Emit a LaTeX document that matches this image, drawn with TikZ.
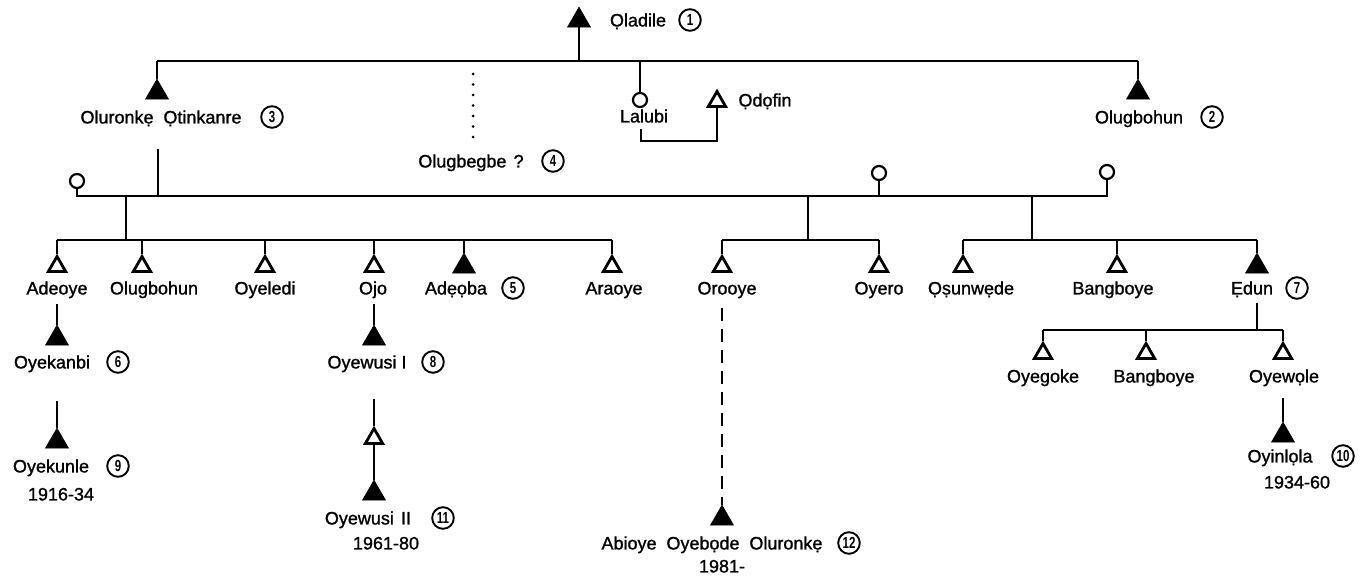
\documentclass[tikz,border=0pt]{standalone}
\usepackage{fontspec}
\setmainfont{Liberation Sans}[FakeBold=1.2]
\newfontfamily\numfont{Liberation Sans}[FakeStretch=0.72]
\usetikzlibrary{shapes.geometric,calc}
\begin{document}
\begin{tikzpicture}[x=0.5pt,y=-0.5pt,line width=1pt,
  male/.style={regular polygon,regular polygon sides=3,minimum size=10pt,inner sep=0pt,
    draw,line width=1.4pt,fill=white},
  ruler/.style={regular polygon,regular polygon sides=3,minimum size=13.3pt,inner sep=0pt,
    draw,line width=0.3pt,fill=black},
  female/.style={circle,draw,line width=1.1pt,minimum size=7pt,inner sep=0pt},
  lbl/.style={font=\fontsize{9}{11}\selectfont,inner sep=0pt,text height=6.45pt,text depth=0pt},
  num/.style={circle,draw,line width=0.95pt,minimum size=10.8pt,inner sep=0pt,
    font=\numfont\bfseries\fontsize{8}{8}\selectfont},
  dotline/.style={line width=1.5pt,line cap=round,dash pattern=on 0pt off 5.25pt},
  dashline/.style={line width=1pt,dash pattern=on 6.5pt off 4pt},
]
\useasboundingbox (0,0) rectangle (1369,577);

% ---- founder
\node[ruler] (tOladile) at (579,20.5) {};
\node[lbl] (lOladile) at (638,20) {Ọladile};
\node[num] (nOladile) at (690,20) {1};

\coordinate (topL) at (157,61);
\coordinate (topR) at (1138,61);
\draw (topL) -- (topR);
\draw (tOladile.side 2) -- (tOladile.side 2 |- topL);

% ---- first generation
\node[ruler] (tOluronke) at (157,92.5) {};
\draw (topL) -- (tOluronke.corner 1);
\node[lbl] (lOluronke) at (161,117) {Oluronkẹ\hspace{.55em}Ọtinkanre};
\node[num] (nOluronke) at (272,117) {3};

\coordinate (dotTop) at (473,74);
\coordinate (dotBot) at (473,137);
\draw[dotline] (dotTop) -- (dotBot);
\node[lbl] (lOlugbegbe) at (471,161) {Olugbegbe\hspace{.4em}?};
\node[num] (nOlugbegbe) at (553,161) {4};

\node[female] (cLalubi) at (640,100) {};
\draw (cLalubi.north |- topL) -- (cLalubi.north);
\node[lbl] (lLalubi) at (644,116) {Lalubi};
\node[male] (tOdofin) at (717,101.5) {};
\node[lbl] (lOdofin) at (765,100) {Ọdọfin};
\coordinate (marriage) at (680,141);
\draw ($(cLalubi.south |- lLalubi.south)+(1,5.5)$) |- (marriage) -| (tOdofin.side 2);

\node[ruler] (tOlugbohunA) at (1138,92.5) {};
\draw (topR) -- (tOlugbohunA.corner 1);
\node[lbl] (lOlugbohunA) at (1139,117) {Olugbohun};
\node[num] (nOlugbohunA) at (1212,117) {2};

% ---- wives of Oluronke Otinkanre
\node[female] (cWifeA) at (77,181) {};
\node[female] (cWifeB) at (879,173) {};
\node[female] (cWifeC) at (1107,172) {};
\coordinate (barL) at (77,196);
\coordinate (barR) at (1107,196);
\draw (cWifeA.south) -- (barL) -- (barR) -- (cWifeC.south);
\draw (cWifeB.south) -- (cWifeB.south |- barL);
\draw ($(tOluronke |- lOluronke.south)+(1,24.5)$) -- ($(tOluronke |- barL)+(1,0)$);

% ---- second generation
\coordinate (dropA) at (126,196);
\coordinate (dropB) at (808,196);
\coordinate (dropC) at (1032,196);
\coordinate (sibA) at (126,240);
\coordinate (sibB) at (808,240);
\coordinate (sibC) at (1032,240);
\draw (dropA) -- (sibA);
\draw (dropB) -- (sibB);
\draw (dropC) -- (sibC);

\foreach \n/\x/\s in {Adeoye/57/male,OlugbohunB/142/male,Oyeledi/265/male,Ojo/374/male,
    Adeoba/464/ruler,Araoye/612/male,Orooye/722/male,Oyero/879/male,
    Osunwede/963/male,BangboyeA/1117/male,Edun/1257/ruler}
  \node[\s] (t\n) at (\x,266.5) {};

\draw (tAdeoye.corner 1 |- sibA) -- (tAraoye.corner 1 |- sibA);
\draw (tOrooye.corner 1 |- sibB) -- (tOyero.corner 1 |- sibB);
\draw (tOsunwede.corner 1 |- sibC) -- (tEdun.corner 1 |- sibC);
\foreach \n/\b in {Adeoye/sibA,OlugbohunB/sibA,Oyeledi/sibA,Ojo/sibA,Adeoba/sibA,Araoye/sibA,
    Orooye/sibB,Oyero/sibB,Osunwede/sibC,BangboyeA/sibC,Edun/sibC}
  \draw (t\n.corner 1 |- \b) -- (t\n.corner 1);

\node[lbl] (lAdeoye) at (57,288) {Adeoye};
\node[lbl] (lOlugbohunB) at (154,288) {Olugbohun};
\node[lbl] (lOyeledi) at (265,288) {Oyeledi};
\node[lbl] (lOjo) at (373,288) {Ojo};
\node[lbl] (lAdeoba) at (456,288) {Adẹọba};
\node[num] (nAdeoba) at (513,288) {5};
\node[lbl] (lAraoye) at (614,288) {Araoye};
\node[lbl] (lOrooye) at (727,288) {Orooye};
\node[lbl] (lOyero) at (879,288) {Oyero};
\node[lbl] (lOsunwede) at (971,288) {Ọṣunwẹde};
\node[lbl] (lBangboyeA) at (1113,288) {Bangboye};
\node[lbl] (lEdun) at (1252,288) {Ẹdun};
\node[num] (nEdun) at (1297,288) {7};

% ---- Adeoye line
\node[ruler] (tOyekanbi) at (57,338.5) {};
\draw ($(tAdeoye.side 2 |- lAdeoye.south)+(0,8.5)$) -- (tOyekanbi.corner 1);
\node[lbl] (lOyekanbi) at (52,362) {Oyekanbi};
\node[num] (nOyekanbi) at (118,362) {6};
\node[ruler] (tOyekunle) at (57,441.5) {};
\draw ($(tOyekanbi.side 2 |- lOyekanbi.south)+(0,31.5)$) -- (tOyekunle.corner 1);
\node[lbl] (lOyekunle) at (51,466) {Oyekunle};
\node[num] (nOyekunle) at (118,466) {9};
\node[lbl] (yOyekunle) at (61,494) {1916-34};

% ---- Ojo line
\node[ruler] (tOyewusiA) at (374,338.5) {};
\draw ($(tOjo.side 2 |- lOjo.south)+(0,8.5)$) -- (tOyewusiA.corner 1);
\node[lbl] (lOyewusiA) at (367,362) {Oyewusi I};
\node[num] (nOyewusiA) at (433,362) {8};
\node[male] (tOyewusiX) at (374,438.5) {};
\draw ($(tOyewusiA.side 2 |- lOyewusiA.south)+(0,29.5)$) -- (tOyewusiX.corner 1);
\node[ruler] (tOyewusiB) at (374,493.5) {};
\draw (tOyewusiX.side 2) -- (tOyewusiB.corner 1);
\node[lbl] (lOyewusiB) at (368,518) {Oyewusi\hspace{.4em}II};
\node[num] (nOyewusiB) at (443,518) {11};
\node[lbl] (yOyewusiB) at (386,543) {1961-80};

% ---- Orooye line
\node[ruler] (tAbioye) at (722,518.5) {};
\draw[dashline] ($(tOrooye.side 2 |- lOrooye.south)+(0,12.5)$) -- (tAbioye.corner 1);
\node[lbl] (lAbioye) at (712,543) {Abioye\hspace{.55em}Oyebọde\hspace{.55em}Oluronkẹ};
\node[num] (nAbioye) at (849,543) {12};
\node[lbl] (yAbioye) at (722,566) {1981-};

% ---- Edun line
\coordinate (sibD) at (1257,330);
\draw ($(tEdun.side 2 |- lEdun.south)+(0,7.5)$) -- (sibD);
\foreach \n/\x in {Oyegoke/1043,BangboyeB/1146,Oyewole/1283}
  \node[male] (t\n) at (\x,353.5) {};
\draw (tOyegoke.corner 1 |- sibD) -- (tOyewole.corner 1 |- sibD);
\foreach \n in {Oyegoke,BangboyeB,Oyewole}
  \draw (t\n.corner 1 |- sibD) -- (t\n.corner 1);
\node[lbl] (lOyegoke) at (1043,376) {Oyegoke};
\node[lbl] (lBangboyeB) at (1154,376) {Bangboye};
\node[lbl] (lOyewole) at (1284,376) {Oyewọle};
\node[ruler] (tOyinlola) at (1283,435.5) {};
\draw ($(tOyewole.side 2 |- lOyewole.south)+(0,14.5)$) -- (tOyinlola.corner 1);
\node[lbl] (lOyinlola) at (1280,456) {Oyinlọla};
\node[num] (nOyinlola) at (1343,456) {10};
\node[lbl] (yOyinlola) at (1297,482) {1934-60};
\end{tikzpicture}
\end{document}
